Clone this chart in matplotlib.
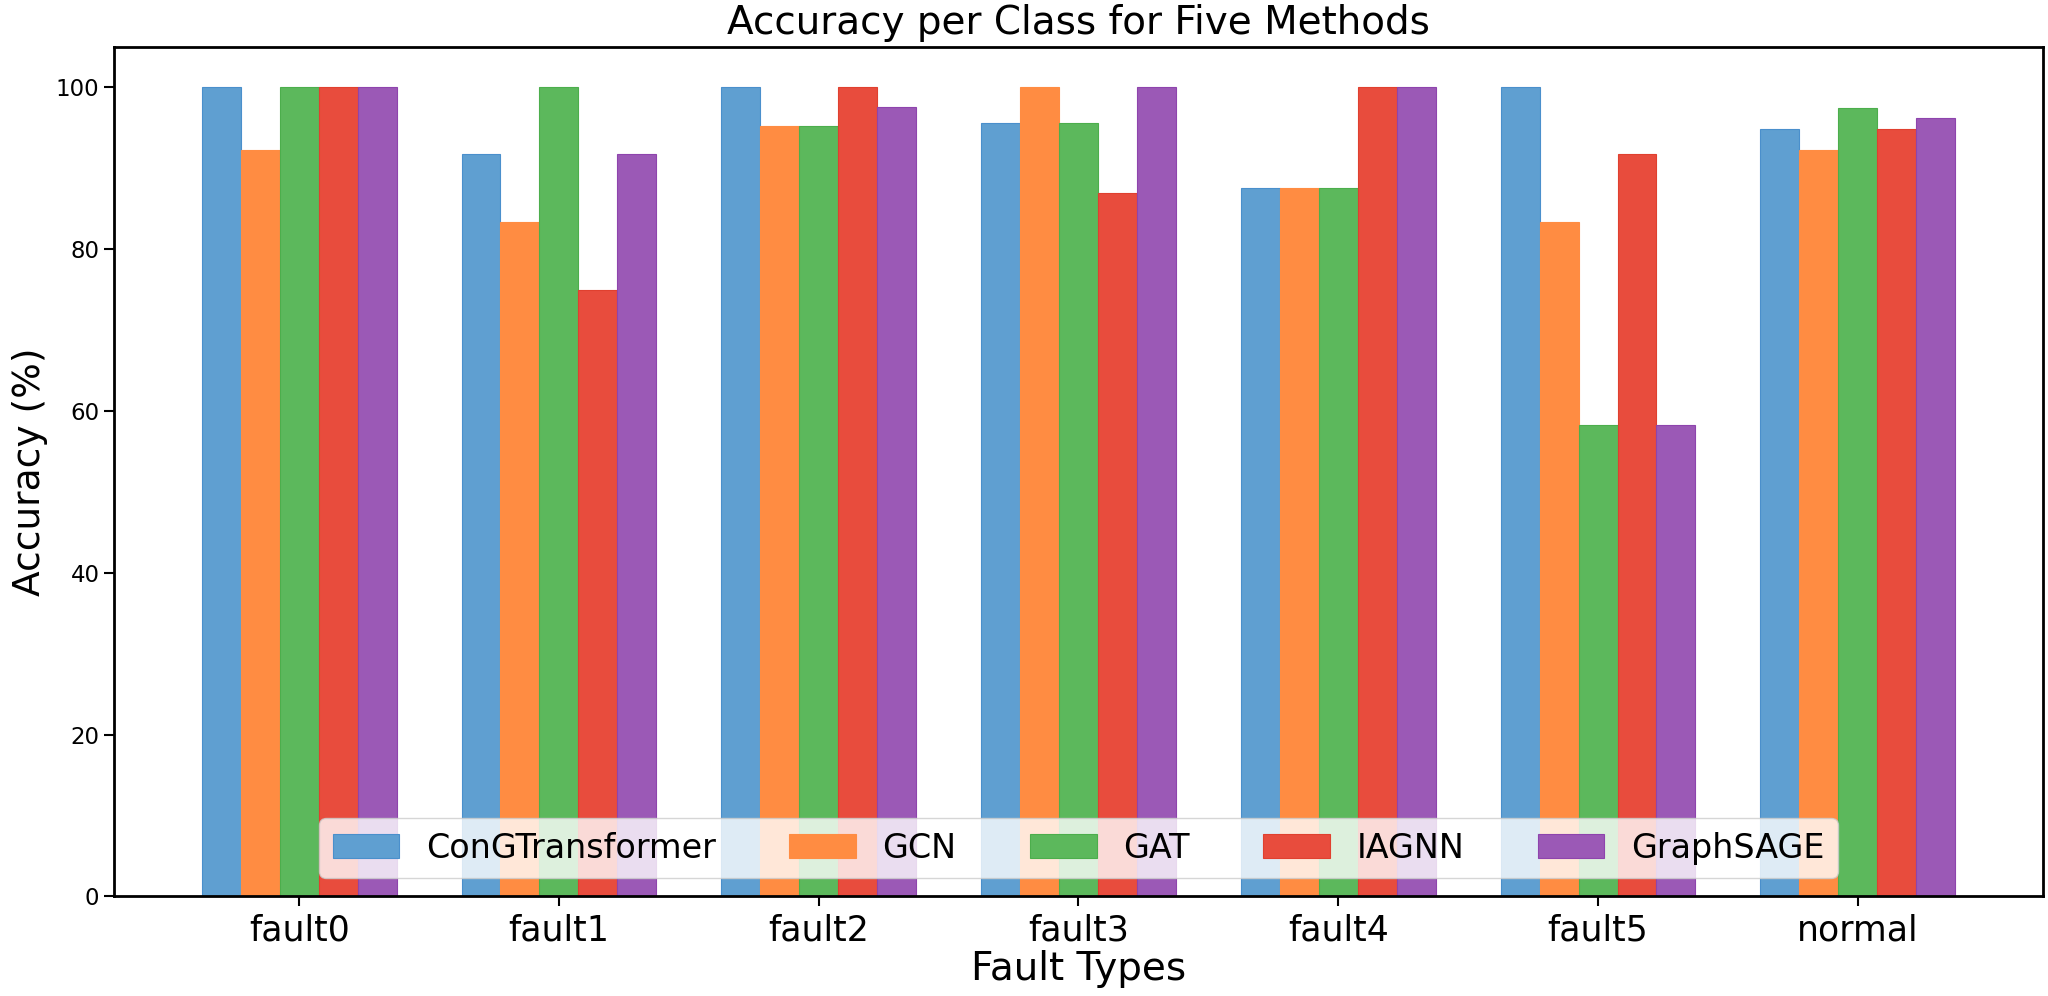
import numpy as np
import matplotlib
matplotlib.use('Agg')
import matplotlib.pyplot as plt

# per-class accuracy (%)
classes = ['fault0', 'fault1', 'fault2', 'fault3', 'fault4', 'fault5', 'normal']
methods = ['ConGTransformer', 'GCN', 'GAT', 'IAGNN', 'GraphSAGE']

acc_congt = [100.0, 91.7, 100.0, 95.6, 87.5, 100.0, 94.9]
acc_gcn = [92.3, 83.3, 95.2, 100.0, 87.5, 83.3, 92.3]
acc_gat = [100.0, 100.0, 95.2, 95.6, 87.5, 58.3, 97.4]
acc_iagnn = [100.0, 75.0, 100.0, 86.9, 100.0, 91.7, 94.9]
acc_sage = [100.0, 91.7, 97.6, 100.0, 100.0, 58.3, 96.2]

colors = ['#5f9fd1', '#ff8c42', '#5cb85c', '#e84c3d', '#9b59b6']
edges = ['#4a8fcc', '#ff8c42', '#4cae4c', '#e0402f', '#8e44ad']

fig, ax = plt.subplots(figsize=(20.48, 9.96), dpi=100)
fig.subplots_adjust(left=0.0557, right=0.9975, bottom=0.1, top=0.953)

x = np.arange(len(classes))
width = 0.15
all_acc = [acc_congt, acc_gcn, acc_gat, acc_iagnn, acc_sage]
for i, (name, vals) in enumerate(zip(methods, all_acc)):
    ax.bar(x + (i - 2) * width, vals, width, label=name,
           color=colors[i], edgecolor=edges[i], linewidth=0.8)

ax.set_title('Accuracy per Class for Five Methods', fontsize=28, pad=9)
ax.set_xlabel('Fault Types', fontsize=28, labelpad=2)
ax.set_ylabel('Accuracy (%)', fontsize=27, labelpad=6)
ax.set_xticks(x)
ax.set_xticklabels(classes, fontsize=25)
ax.tick_params(axis='y', labelsize=16.5, length=7, width=1.5)
ax.tick_params(axis='x', length=7, width=1.5, pad=5)
for s in ax.spines.values():
    s.set_linewidth(2)

ax.legend(loc='lower center', ncol=5, fontsize=24, framealpha=0.8,
          handlelength=2.0, columnspacing=2.2, borderaxespad=0.55)

plt.savefig('out.png', dpi=100)
